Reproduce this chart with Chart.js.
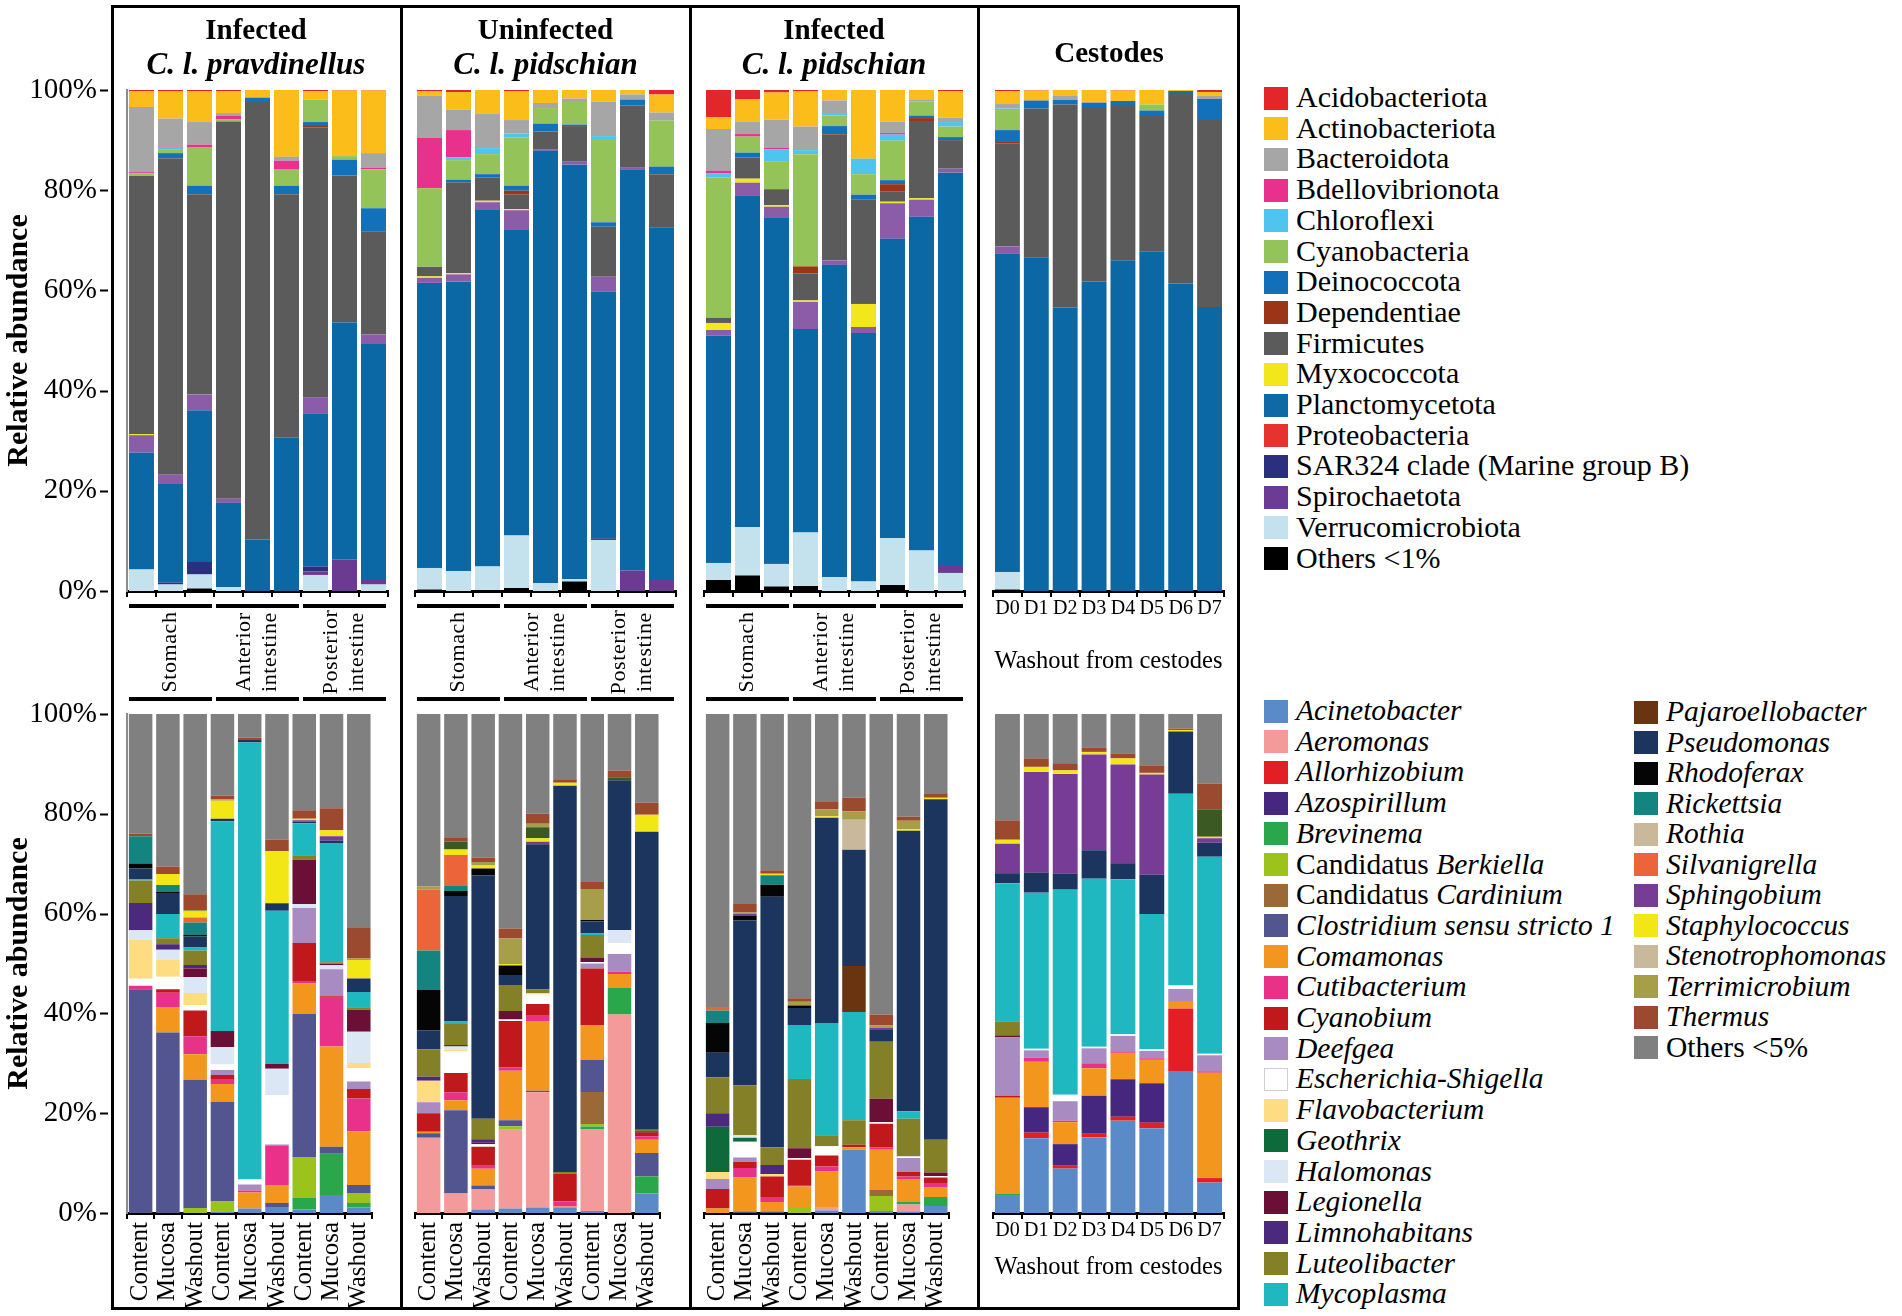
<!DOCTYPE html>
<html lang="en">
<head>
<meta charset="UTF-8">
<title>Relative abundance of bacterial phyla and genera</title>
<script src="https://cdn.jsdelivr.net/npm/chart.js"></script>
<style>
  body { margin: 0; background: #fff; }
  #page { position: relative; width: 1902px; height: 1316px; overflow: hidden; font-family: 'Liberation Serif', 'Times New Roman', serif; color: #000; }
  #page canvas { position: absolute; }
  .box { position: absolute; border: 3px solid #000; box-sizing: border-box; }
  .vline { position: absolute; width: 3px; background: #000; }
  .title { position: absolute; font-weight: bold; font-size: 29px; line-height: 1; white-space: nowrap; transform: translate(-50%, -50%); }
  .title.sp { font-style: italic; font-size: 31px; }
  .gline { position: absolute; height: 4px; background: #000; }
  .glabel { position: absolute; font-size: 22px; line-height: 26px; letter-spacing: 0.6px; white-space: nowrap; text-align: center; transform: translate(-50%, -50%) rotate(-90deg); }
  .cap { position: absolute; font-size: 24.5px; white-space: nowrap; transform: translate(-50%, -50%); }
  .sw { position: absolute; width: 24px; height: 23px; box-sizing: border-box; }
  .lt { position: absolute; font-size: 30px; line-height: 30px; white-space: nowrap; }
  .lt.gen { font-size: 29.5px; }
</style>
</head>
<body>
<div id="page"></div>
<script>
// ---- sample / axis labels ----
const tissueLabels = ['Content', 'Mucosa', 'Washout', 'Content', 'Mucosa', 'Washout', 'Content', 'Mucosa', 'Washout'];
const dayLabels = ['D0', 'D1', 'D2', 'D3', 'D4', 'D5', 'D6', 'D7'];
const sectionLabels = [['Stomach'], ['Anterior', 'intestine'], ['Posterior', 'intestine']];
const panelTitles = [['Infected', 'C. l. pravdinellus'], ['Uninfected', 'C. l. pidschian'], ['Infected', 'C. l. pidschian'], ['Cestodes']];
const washoutCaption = 'Washout from cestodes';
const yTitle = 'Relative abundance';

// ---- phylum level (top row), 35 samples: 9 | 9 | 9 | D0-D7 ----
const othersPhylum = [0,0,0.5,0,0,0,0,0,0, 0.3,0,0.2,0.6,0,1.9,0,0,0, 2.2,3.1,0.9,1.0,0,0,1.2,0,0, 0.3,0,0,0,0,0,0,0];
const verrucomicrobiota = [4.3,1.3,2.8,0.8,0,0,3.2,0,1.3, 4.3,4.0,4.7,10.5,1.6,0.5,10.2,0,0, 3.4,9.6,4.5,10.7,2.8,1.9,9.4,8.1,3.6, 3.5,0,0,0,0,0,0,0];
const spirochaetota = [0,0,0,0,0,0,0.7,6.3,0.9, 0,0,0,0,0,0,0,4.1,2.2, 0,0,0.2,0,0,0,0,0,1.4, 0,0,0,0,0,0,0,0];
const sar324 = [0,0.4,2.5,0,0,0,1.0,0,0, 0,0,0,0,0,0,0.3,0,0, 0,0,0,0,0,0,0,0,0, 0,0,0,0,0,0,0,0];
const planctomycetota = [23.3,19.8,30.3,16.8,10.3,30.6,30.6,47.3,47.1, 56.9,57.8,71.3,61.1,86.3,82.7,49.2,80.1,70.4, 45.4,66.3,69.0,40.6,62.3,49.6,59.7,66.6,78.5, 63.5,66.6,56.6,61.8,66.0,67.8,61.4,56.7];
const proteobacteria = [3.5,1.7,3.1,0.8,0,0,3.2,0,1.9, 1.0,1.4,1.4,3.8,0.3,0.7,3.0,0.3,0, 1.1,2.5,2.1,5.4,0.9,1.2,7.1,3.4,0.8, 1.5,0,0,0,0,0,0,0];
const myxococcota = [0.2,0,0,0,0,0,0,0,0, 0.3,0.2,0.3,0.2,0,0,0,0,0, 1.4,0.8,0.3,0.3,0,4.6,0.3,0.3,0, 0,0,0,0,0,0,0,0];
const firmicutes = [51.6,63.2,40.0,75.3,87.3,48.6,53.8,29.3,20.5, 1.9,18.2,4.6,2.9,3.5,7.0,10.0,12.4,10.6, 1.0,4.2,3.2,5.4,25.1,20.9,2.1,15.4,5.7, 20.5,29.7,40.5,34.8,31.0,27.0,38.0,37.3];
const dependentiae = [0,0,0,0,0,0,0.5,0,0, 0,0,0,0.8,0,0,0,0,0, 0,0,0,1.4,0.3,0,1.4,0.6,0, 0.5,0,0,0,0,0,0,0];
const deinococcota = [0,1.0,1.7,0,0.8,1.7,0.6,3.2,4.7, 0,0.5,0.7,1.0,1.6,0.3,0.9,1.2,1.5, 0,1.0,0,0,1.4,0.9,0.8,0.5,0.6, 2.2,1.6,0.9,0.8,0.8,1.1,0.4,4.2];
const cyanobacteria = [0.5,0.8,7.6,0.5,0,3.2,4.5,0.7,7.8, 15.7,3.9,4.0,9.6,3.1,4.5,16.6,0,9.2, 28.1,3.2,5.6,22.4,2.1,4.1,7.9,2.8,2.1, 4.0,0,0,0,0,1.2,0,0];
const chloroflexi = [0,0.3,0,0,0.2,0,0,0,0, 0,0.6,1.2,0.8,0,0,0.6,0,0, 0.8,0,2.4,0.8,0.5,3.1,1.2,0,0.9, 0.3,0,0,0,0,0,0,0];
const bdellovibrionota = [0.2,0.2,0.6,0.7,0,1.8,0,0,0.3, 10.0,5.4,0,0,0,0,0,0,0, 0.5,0.5,0.3,0,0,0,0.3,0,0, 0,0,0,0,0,0,0,0];
const bacteroidota = [13.0,5.6,4.5,0.5,0,0.8,0,0,2.9, 8.5,4.1,6.8,2.7,1.0,0.7,6.9,1.0,1.6, 8.3,2.4,5.6,4.7,2.5,0,2.3,0.3,0.9, 0.9,0,0.8,0.3,0,0,0,0.7];
const actinobacteriota = [3.2,5.4,6.2,4.4,1.4,13.3,1.7,13.1,12.5, 0.8,3.5,4.8,5.7,2.6,1.7,2.3,0.9,3.6, 2.4,4.6,5.4,7.0,2.1,13.7,6.3,2.0,5.3, 2.6,2.0,1.2,2.3,2.1,2.9,0.2,0.7];
const acidobacteriota = [0.2,0.3,0.2,0.2,0,0,0.2,0.1,0.1, 0.3,0.4,0,0.3,0,0,0,0,0.9, 5.4,1.8,0.5,0.3,0,0,0,0,0.2, 0.2,0.1,0,0,0.1,0,0,0.4];

// stacking order, bottom to top, with the colours used in the bars
const phylumStack = [
  ['Others <1%', othersPhylum, '#000000'],
  ['Verrucomicrobiota', verrucomicrobiota, '#c3e2ee'],
  ['Spirochaetota', spirochaetota, '#6b3a91'],
  ['SAR324 clade (Marine group B)', sar324, '#2b2f80'],
  ['Planctomycetota', planctomycetota, '#0b68a5'],
  ['Proteobacteria', proteobacteria, '#8b5ca7'],
  ['Myxococcota', myxococcota, '#f2e71b'],
  ['Firmicutes', firmicutes, '#5b5b5b'],
  ['Dependentiae', dependentiae, '#9c3517'],
  ['Deinococcota', deinococcota, '#1172bb'],
  ['Cyanobacteria', cyanobacteria, '#94c459'],
  ['Chloroflexi', chloroflexi, '#4fc4ef'],
  ['Bdellovibrionota', bdellovibrionota, '#e8318c'],
  ['Bacteroidota', bacteroidota, '#a6a6a6'],
  ['Actinobacteriota', actinobacteriota, '#fbbd1a'],
  ['Acidobacteriota', acidobacteriota, '#e3262a']
];
const phylumLegend = ['Acidobacteriota','Actinobacteriota','Bacteroidota','Bdellovibrionota','Chloroflexi','Cyanobacteria','Deinococcota','Dependentiae','Firmicutes','Myxococcota','Planctomycetota','Proteobacteria','SAR324 clade (Marine group B)','Spirochaetota','Verrucomicrobiota','Others <1%'];
const phylumLegendColors = ['#e3262a','#fbbd1a','#a6a6a6','#e8318c','#4fc4ef','#94c459','#1170b9','#9c3517','#5b5b5b','#f2e71b','#0e69a4','#e6332f','#2b2f80','#6c3b94','#c3e2ee','#000000'];

// ---- genus level (bottom row) ----
const acinetobacter = [0,0,0,0.3,0.9,1.2,0.7,3.6,1.1, 0,0,0.7,0.9,1.1,1.0,0.4,0,3.9, 0,0,0,0,0.5,12.7,0.4,0.3,1.4, 3.6,15.0,8.9,15.2,18.5,17.0,28.3,6.1];
const aeromonas = [0,0,0,0,0,0,0,0,0, 15.1,3.9,4.1,15.8,23.1,0,16.4,39.8,0, 0,0,0,0,0.7,0,0,1.4,0, 0,0,0,0,0,0,0,0];
const allorhizobium = [0,0,0,0,0,0,0,0,0, 0,0,0,0,0,0,0,0,0, 0,0,0,0,0,0,0,0,0, 0,1.1,0.7,0.7,0.8,1.1,12.7,0.9];
const azospirillum = [0,0,0,0,0,0,0,0,0, 0,0,0,0,0,0,0,0,0, 0,0,0,0,0,0,0,0,0, 0,5.1,4.2,7.6,7.5,7.9,0,0];
const brevinema = [0,0,0,0,0,0,2.4,8.3,0.9, 0,0,0,0,0,0,0.5,5.3,3.4, 0,0,0,0,0,0,0,0.5,1.8, 0.3,0,0,0,0,0,0,0];
const berkiella = [0,0,1.0,2.0,0,0,8.1,0,2.0, 0,0,0,0.7,0,0,0.5,0,0, 0,0,0,1.2,0,0,3.0,0,0, 0,0,0,0,0,0,0,0];
const cardinium = [0,0,0,0,0,0,0,0,0, 0,0,0,0,0,0,6.4,0,0, 0,0,0,0,0,0,1.2,0,0, 0,0,0,0,0,0,0,0];
const clostridium = [44.9,36.2,25.7,20.0,0,0.8,28.7,1.4,1.6, 0.9,16.7,0.7,1.2,0.3,0,6.4,0,4.7, 0,0.3,0.3,0,0,0,0,0,0, 0,0,0,0,0,0,0,0];
const comamonas = [0,5.1,5.1,3.6,3.2,3.6,6.1,20.1,10.8, 0.3,2.0,3.4,9.9,14.0,0.3,6.9,2.8,2.7, 0.9,6.8,1.9,4.1,7.1,0.5,8.1,4.6,2.0, 19.2,9.1,4.4,5.5,5.3,4.7,1.3,21.1];
const cutibacterium = [0.7,2.9,3.6,1.0,0.4,7.8,0.5,9.8,6.6, 0,1.6,0.6,0.7,1.2,1.0,0,0.5,0.7, 0,1.9,1.0,0.3,1.0,0,0.5,0.5,0.8, 0,0.8,0.3,1.0,0.3,0.3,0,0.3];
const cyanobium = [0,0.7,5.2,0.8,0,0,7.6,0.3,1.9, 3.7,3.9,3.8,9.3,2.2,5.6,11.4,0,0.7, 3.9,1.2,4.1,5.1,2.2,0.5,4.7,0.9,1.1, 0.4,0,0,0,0,0,0,0];
const deefgea = [0,0,0,1.0,1.2,0.3,7.0,5.4,1.5, 2.2,0,0,0,0,0,1.0,3.5,0, 2.0,0.9,0,0,0,0,0,2.8,0, 11.7,1.5,3.9,3.0,3.1,1.5,2.6,3.2];
const escherichia = [1.4,2.5,1.1,1.1,1.0,9.9,0,0,2.7, 0,4.3,0.5,0.3,1.9,0,0.3,2.2,0, 0,3.2,0,0.3,1.9,0,0.3,0.3,0.3, 0,0.3,1.3,0.3,0.3,0.3,0.7,0.3];
const flavobacterium = [7.8,3.4,2.4,0,0,0,0,0,1.0, 4.3,0.3,0,0,0.3,0,0,0,0, 1.4,0,0.5,0,0,0,0,0,0, 0,0,0,0,0,0,0,0];
const geothrix = [0,0,0,0,0,0,0,0,0, 0,0,0,0,0,0,0,0,0, 9.1,0.8,0,0,0,0,0,0,0, 0,0,0,0,0,0,0,0];
const halomonas = [1.9,2.0,3.2,3.5,0,5.3,0.8,0.8,6.3, 0,0.7,0,0,0,0,0,2.6,0, 0,0.5,0,0,0,0,0,0,0, 0,0,0,0,0,0,0,0];
const legionella = [0,0,1.7,3.2,0,1.0,8.9,0.3,4.4, 0,0,0.3,1.7,0,0,0.9,0,0.3, 0,0,0,2.0,0,0,4.7,0,0.7, 0.4,0,0,0,0,0,0,0];
const limnohabitans = [5.5,1.1,0.7,0,0,0,0,0,0, 0.8,0.3,0.7,0,0,0,0,0,0, 2.7,0,1.8,0,0,0,0,0,0, 0,0,0,0,0,0,0,0];
const luteolibacter = [4.5,1.2,2.9,0,0,0,0.9,0.3,0.5, 5.5,4.2,4.1,5.2,0.7,0.3,4.5,0,0.3, 7.2,10.0,3.6,13.9,2.2,4.9,11.4,7.6,6.6, 2.8,0,0,0,0,0,0,0];
const mycoplasma = [0.2,4.9,0.6,42.1,87.6,30.6,6.4,23.9,3.1, 0,0.5,0,0,0,0,0.3,0,0, 0,0,0,10.8,22.5,21.7,0,1.5,0, 27.7,31.3,41.1,33.7,31.1,27.1,38.4,39.5];
const pajaroellobacter = [0,0,0,0,0,0,0,0,0, 0,0,0,0,0,0,0,0,0, 0,0,0,0,0,9.2,0,0,0, 0,0,0,0,0,0,0,0];
const pseudomonas = [2.2,4.2,2.2,0.5,0.5,1.5,0.3,0.5,2.7, 3.8,25.2,48.8,2.0,29.1,77.5,2.4,30.0,59.7, 4.9,33.0,50.2,3.4,41.1,23.3,2.5,56.2,68.2, 2.0,4.0,3.2,5.7,3.2,7.9,12.5,2.8];
const rhodoferax = [1.0,0.2,0.3,0,0,0,0,0,0, 8.1,1.0,1.4,1.9,0,0,0.3,0,0, 6.0,1.0,2.4,0.5,0,0,0,0,0, 0,0,0,0,0,0,0,0];
const rickettsia = [5.5,1.4,2.5,0,0,0,0,0,0, 7.9,1.0,0,0,0,0,0,0,0, 2.5,0,1.9,0,0,0,0,0,0, 0,0,0,0,0,0,0,0];
const rothia = [0,0,0,0,0,0,0,0,0, 0,0,0,0,0,0,0,0,0, 0,0,0,0,0,6.0,0,0,0, 0,0,0,0,0,0,0,0];
const silvanigrella = [0,0,1.0,0,0,0,0,0,0, 12.2,6.2,0,0,0,0,0,0,0, 0.7,0,0,0,0,0,0,0,0, 0,0,0,0,0,0,0,0];
const sphingobium = [0,0,0,0,0,0,0.3,0.9,0, 0,0,0,0,0.5,0,0,0,0, 0,0.3,0,0,0,0,0.3,0,0, 5.9,20.2,20.0,19.2,19.8,20.1,0,0.9];
const staphylococcus = [0,2.2,1.2,3.6,0,10.4,0.3,1.2,3.7, 0,1.1,0.6,0.3,0.7,0.6,0,0,3.4, 0,0,0.3,0,0.3,0,0,0.3,0.3, 0.8,1.0,0.7,0.5,1.2,0.3,0.3,0.3];
const stenotrophomonas = [0,0,0,0,0,0,0,0,0, 0,1.6,0,0,2.2,0,0,0.6,0, 0,0,0,0,0,0,0,0,0, 0,0,0,0,0,0,0,5.5];
const terrimicrobium = [0,0,0.3,0.3,0,0,0,0,0.3, 0.7,0,0.7,5.1,0.7,0,6.2,0,0, 0,0.3,0,0.8,1.4,1.7,0.5,1.7,0, 0,0,0,0,0,0,0,0];
const thermus = [0.5,1.5,3.2,0.7,0.5,2.3,1.7,4.4,6.3, 0,0.9,0.9,2.0,2.0,0.7,1.4,1.4,2.4, 0,1.7,0.7,0.7,1.6,2.7,2.2,0.8,0.9, 3.9,1.7,1.3,0.8,1.0,1.5,0.3,5.2];
const othersGenus = [24.0,30.6,36.1,16.4,4.7,25.2,19.3,18.9,42.8, 34.5,24.7,28.8,43.0,20.0,13.1,33.6,11.3,17.8, 58.7,38.1,31.3,57.0,17.5,16.8,60.2,20.6,15.9, 21.3,8.9,10.0,6.8,7.9,10.3,2.9,13.9];

// legend order = stacking order (bottom to top); [name, values, bar colour, legend colour]
const genusStack = [
  ['Acinetobacter', acinetobacter, '#5b8ac8', '#5b8ac8'],
  ['Aeromonas', aeromonas, '#f39a9b', '#f39a9b'],
  ['Allorhizobium', allorhizobium, '#e31e25', '#e31e25'],
  ['Azospirillum', azospirillum, '#46277f', '#46277f'],
  ['Brevinema', brevinema, '#2aa74a', '#2aa74a'],
  ['Candidatus Berkiella', berkiella, '#9cc31b', '#9cc31b'],
  ['Candidatus Cardinium', cardinium, '#9b6937', '#9b6937'],
  ['Clostridium sensu stricto 1', clostridium, '#535590', '#535590'],
  ['Comamonas', comamonas, '#f3961d', '#f3961d'],
  ['Cutibacterium', cutibacterium, '#e9318a', '#e9318a'],
  ['Cyanobium', cyanobium, '#c1181c', '#c1181c'],
  ['Deefgea', deefgea, '#a88bc0', '#a88bc0'],
  ['Escherichia-Shigella', escherichia, '#ffffff', '#ffffff'],
  ['Flavobacterium', flavobacterium, '#fddc82', '#fddc82'],
  ['Geothrix', geothrix, '#0f6a3b', '#0f6a3b'],
  ['Halomonas', halomonas, '#dce7f5', '#dce7f5'],
  ['Legionella', legionella, '#6b0f36', '#6b0f36'],
  ['Limnohabitans', limnohabitans, '#4b297c', '#4b297c'],
  ['Luteolibacter', luteolibacter, '#838027', '#838027'],
  ['Mycoplasma', mycoplasma, '#20b8c0', '#20b8c0'],
  ['Pajaroellobacter', pajaroellobacter, '#6a3411', '#6a3411'],
  ['Pseudomonas', pseudomonas, '#1c355f', '#1c355f'],
  ['Rhodoferax', rhodoferax, '#050505', '#050505'],
  ['Rickettsia', rickettsia, '#148480', '#148480'],
  ['Rothia', rothia, '#cab89b', '#cab89b'],
  ['Silvanigrella', silvanigrella, '#ec643a', '#ec643a'],
  ['Sphingobium', sphingobium, '#773c95', '#773c95'],
  ['Staphylococcus', staphylococcus, '#f2e615', '#f2e615'],
  ['Stenotrophomonas', stenotrophomonas, '#3b5a23', '#cab89b'],
  ['Terrimicrobium', terrimicrobium, '#a69e48', '#a69e48'],
  ['Thermus', thermus, '#9b4a30', '#9b4a30'],
  ['Others <5%', othersGenus, '#808080', '#808080']
];

// ---- layout (page pixels) ----
const page = document.getElementById('page');
const SERIF = "'Liberation Serif', 'Times New Roman', serif";
const ROWS = [{T: 90, B: 591}, {T: 714, B: 1213}];
const COLS = [{L: 127, R: 388}, {L: 415, R: 676}, {L: 704, R: 965}, {L: 993, R: 1224}];
const BORDERS = [111, 401, 690, 978, 1240];
const PANEL_SLICES = [[0, 9], [9, 18], [18, 27], [27, 35]];

Chart.defaults.font.family = SERIF;
Chart.defaults.color = '#000';

function el(tag, cls, style, text) {
  const e = document.createElement(tag);
  if (cls) e.className = cls;
  Object.assign(e.style, style || {});
  if (text !== undefined) e.textContent = text;
  page.appendChild(e);
  return e;
}

// short black tick marks outside the boxed panel
const outerTicks = {
  id: 'outerTicks',
  afterDraw(chart, args, opts) {
    const y = chart.scales.y, ctx = chart.ctx;
    ctx.save();
    ctx.strokeStyle = '#000';
    ctx.lineWidth = 2;
    y.ticks.forEach(t => {
      const py = Math.round(y.getPixelForValue(t.value)) + 0.5;
      ctx.beginPath(); ctx.moveTo(opts.x0, py); ctx.lineTo(opts.x1, py); ctx.stroke();
    });
    ctx.restore();
  }
};

function datasetsFor(stack, from, to) {
  const sums = [];
  for (let i = from; i < to; i++) sums.push(stack.reduce((s, row) => s + row[1][i], 0));
  return stack.map(row => ({
    label: row[0],
    data: row[1].slice(from, to).map((v, i) => v * 100 / sums[i]),
    backgroundColor: row[2],
    borderWidth: 0,
    categoryPercentage: 1,
    barPercentage: 0.862
  }));
}

function panel(rowIdx, colIdx, stack, labels, xOpt) {
  const row = ROWS[rowIdx], col = COLS[colIdx];
  const withY = colIdx === 0;
  const left = withY ? 0 : col.L - 4;
  const top = row.T - 20;
  const w = col.R + 4 - left, h = row.B + xOpt.height - top;
  const cv = el('canvas', null, {left: left + 'px', top: top + 'px', width: w + 'px', height: h + 'px'});
  cv.width = w; cv.height = h;
  const [from, to] = PANEL_SLICES[colIdx];
  const yScale = {
    stacked: true, min: 0, max: 100, display: withY,
    grid: {display: false, drawTicks: true, tickLength: 30, color: 'rgba(0,0,0,0)'},
    border: {display: true, color: '#8c8c8c', width: 2},
    ticks: {stepSize: 20, callback: v => v + '%', padding: 0, font: {size: 29}, color: '#000'},
    title: {display: true, text: yTitle, color: '#000', font: {size: 30, weight: 'bold'}, padding: {top: 1, bottom: 0}}
  };
  if (withY) yScale.afterFit = s => { s.width = col.L; };
  new Chart(cv, {
    type: 'bar',
    data: {labels: labels, datasets: datasetsFor(stack, from, to)},
    options: {
      responsive: false,
      animation: false,
      events: [],
      layout: {padding: {left: withY ? 0 : 4, right: 4, top: 20, bottom: 0}},
      plugins: {legend: {display: false}, tooltip: {enabled: false}, outerTicks: {x0: 100, x1: 108}},
      scales: {
        x: {
          stacked: true,
          grid: {offset: true, drawOnChartArea: false, drawTicks: true, tickLength: 6, color: '#000', lineWidth: 2},
          border: {display: true, color: '#000', width: 3},
          ticks: {display: xOpt.show, autoSkip: false, maxRotation: xOpt.rot, minRotation: xOpt.rot,
                  padding: xOpt.pad, font: {size: xOpt.size}, color: '#000'},
          afterFit: s => { s.height = xOpt.height; }
        },
        y: yScale
      }
    },
    plugins: withY ? [outerTicks] : []
  });
}

// ---- charts ----
const noLabels = {show: false, rot: 0, pad: 0, size: 20, height: 24};
const dayAxis = {show: true, rot: 0, pad: 0, size: 20, height: 34};
const tissueAxis = {show: true, rot: 90, pad: 3, size: 25, height: 100};
for (let c = 0; c < 3; c++) panel(0, c, phylumStack, tissueLabels, noLabels);
panel(0, 3, phylumStack, dayLabels, dayAxis);
for (let c = 0; c < 3; c++) panel(1, c, genusStack, tissueLabels, tissueAxis);
panel(1, 3, genusStack, dayLabels, dayAxis);

// ---- frame ----
el('div', 'box', {left: BORDERS[0] + 'px', top: '5px', width: (BORDERS[4] - BORDERS[0]) + 'px', height: '1305px'});
for (let i = 1; i < 4; i++) el('div', 'vline', {left: (BORDERS[i] - 1.5) + 'px', top: '5px', height: '1305px'});

// ---- panel titles ----
panelTitles.forEach((t, i) => {
  const cx = (BORDERS[i] + BORDERS[i + 1]) / 2;
  if (t.length === 2) {
    el('div', 'title', {left: cx + 'px', top: '29px'}, t[0]);
    el('div', 'title sp', {left: cx + 'px', top: '63px'}, t[1]);
  } else {
    el('div', 'title', {left: cx + 'px', top: '52px'}, t[0]);
  }
});

// ---- gut section brackets between the rows ----
for (let c = 0; c < 3; c++) {
  const col = COLS[c], slot = (col.R - col.L) / 9;
  for (let g = 0; g < 3; g++) {
    const x0 = col.L + g * 3 * slot, x1 = x0 + 3 * slot;
    [604, 697].forEach(y => el('div', 'gline', {left: (x0 + 1.5) + 'px', top: y + 'px', width: (x1 - x0 - 4) + 'px'}));
    const lab = el('div', 'glabel', {left: ((x0 + x1) / 2 - 2) + 'px', top: '652px'});
    sectionLabels[g].forEach((s, k) => {
      if (k) lab.appendChild(document.createElement('br'));
      lab.appendChild(document.createTextNode(s));
    });
  }
}
el('div', 'cap', {left: (COLS[3].L + COLS[3].R) / 2 + 'px', top: '660px'}, washoutCaption);
el('div', 'cap', {left: (COLS[3].L + COLS[3].R) / 2 + 'px', top: '1266px'}, washoutCaption);

// ---- legends ----
function legendItem(x, y, color, name, italic) {
  const sw = el('div', 'sw', {left: x + 'px', top: (y - 11.5) + 'px', background: color});
  if (color === '#ffffff') sw.style.border = '1px solid #cfcfcf';
  const t = el('div', italic ? 'lt gen' : 'lt', {left: (x + 32) + 'px', top: (y - 16) + 'px'});
  if (!italic || name.startsWith('Others')) {
    t.textContent = name;
  } else if (name.startsWith('Candidatus ')) {
    t.appendChild(document.createTextNode('Candidatus '));
    const i = document.createElement('i'); i.textContent = name.slice(11); t.appendChild(i);
  } else {
    t.style.fontStyle = 'italic';
    t.textContent = name;
  }
}
phylumLegend.forEach((n, i) => legendItem(1264, 98 + i * 30.7, phylumLegendColors[i], n, false));
genusStack.forEach((g, i) => {
  if (i < 20) legendItem(1264, 711 + i * 30.7, g[3], g[0], true);
  else legendItem(1634, 712 + (i - 20) * 30.5, g[3], g[0], true);
});
</script>
</body>
</html>
